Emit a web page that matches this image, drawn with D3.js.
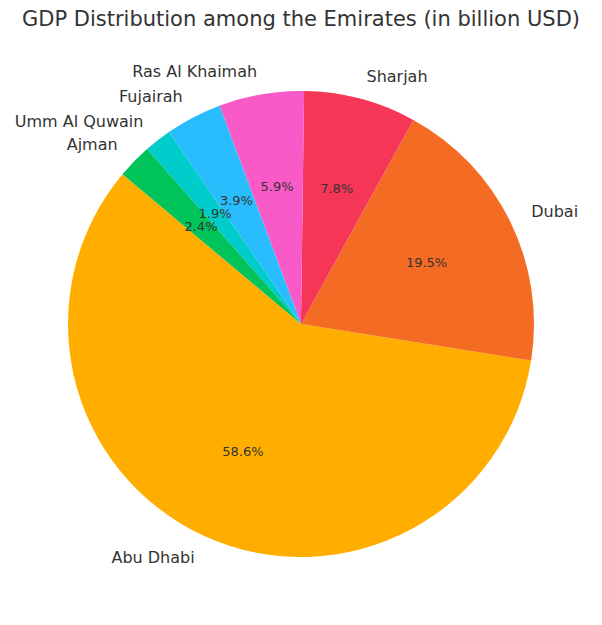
<!DOCTYPE html>
<html><head><meta charset="utf-8">
<script src="https://cdn.jsdelivr.net/npm/d3@7"></script>
<style>body{margin:0;background:#fff}svg{display:block}</style>
</head><body>
<svg id="c" width="602" height="625"></svg>
<script>
const categories = ["Abu Dhabi","Dubai","Sharjah","Ras Al Khaimah","Fujairah","Umm Al Quwain","Ajman"];
const values = [58.6,19.5,7.8,5.9,3.9,1.9,2.4];
const colors = ["#FFAE00","#F46B24","#F53656","#F85AC7","#29BDFE","#00CCCC","#00C35A"];
const title = "GDP Distribution among the Emirates (in billion USD)";

const svg = d3.select("#c");
const cx = 301, cy = 324, R = 233;
const deg = Math.PI/180;
const data = categories.map((c,i)=>({name:c,value:values[i],color:colors[i]}));
const pie = d3.pie().sort(null).value(d=>d.value)
  .startAngle((90-140)*deg).endAngle((90-140-360)*deg);
const arcs = pie(data);
const arc = d3.arc().innerRadius(0).outerRadius(R);
const g = svg.append("g").attr("transform",`translate(${cx},${cy})`);
g.selectAll("path").data(arcs).join("path")
  .attr("d",arc).attr("fill",d=>d.data.color);

const total = d3.sum(values);
arcs.forEach(d=>{
  const a = (d.startAngle+d.endAngle)/2;
  const lx = Math.sin(a)*R*1.1, ly = -Math.cos(a)*R*1.1;
  g.append("text").attr("x",lx).attr("y",ly)
    .attr("text-anchor", lx>0?"start":"end")
    .attr("dominant-baseline","central")
    .attr("font-family","DejaVu Sans").attr("font-size",16).attr("fill","#333")
    .text(d.data.name);
  const px = Math.sin(a)*R*0.6, py = -Math.cos(a)*R*0.6;
  g.append("text").attr("x",px).attr("y",py)
    .attr("text-anchor","middle").attr("dominant-baseline","central")
    .attr("font-family","DejaVu Sans").attr("font-size",13).attr("fill","#333")
    .text((d.data.value/total*100).toFixed(1)+"%");
});

svg.append("text").attr("x",301).attr("y",26)
  .attr("text-anchor","middle").attr("font-family","DejaVu Sans")
  .attr("font-size",21).attr("fill","#333").text(title);
</script>
</body></html>
